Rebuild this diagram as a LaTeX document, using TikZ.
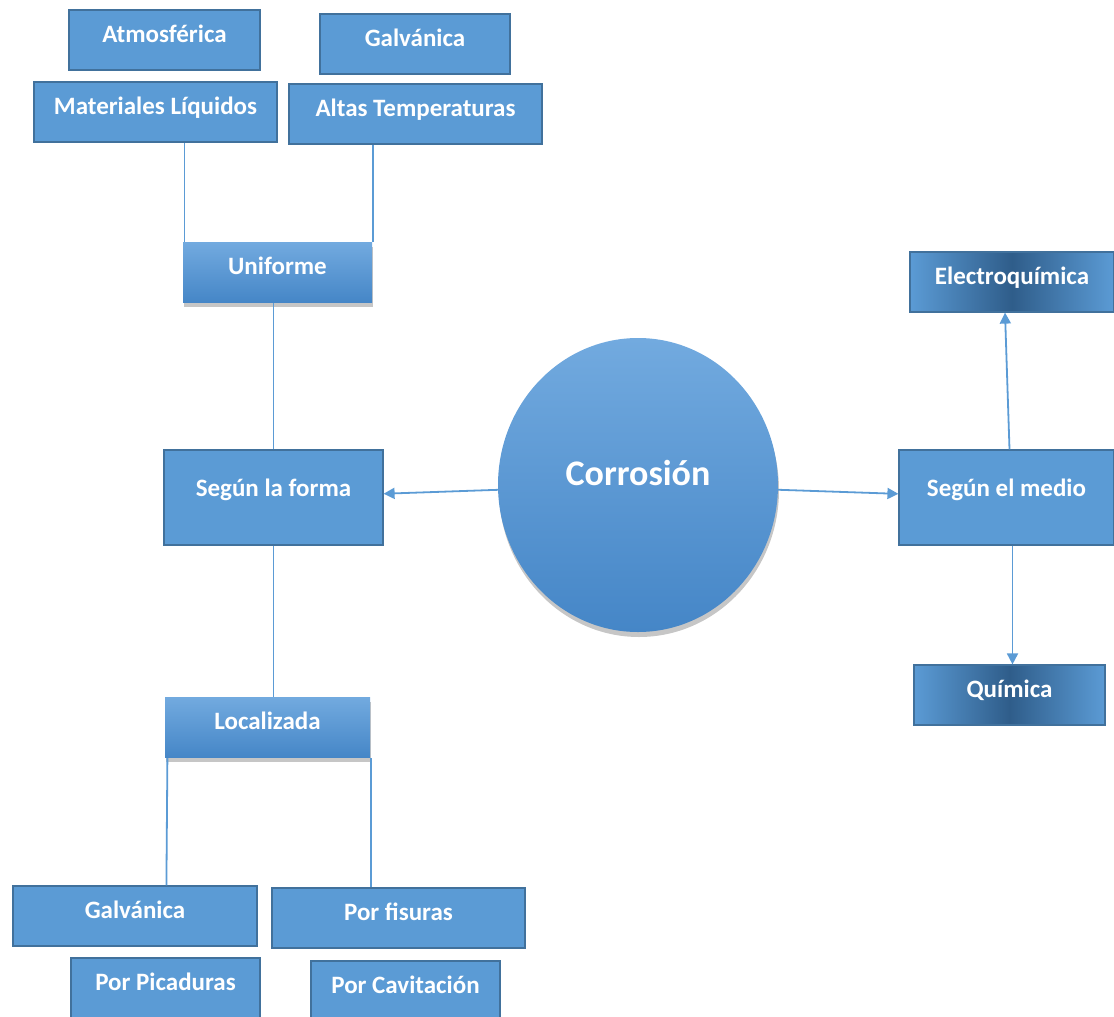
\documentclass[tikz,border=0pt]{standalone}
\usepackage{fontspec}
\setmainfont{Carlito}
\usetikzlibrary{arrows.meta, shapes.geometric, positioning, shadows}
\definecolor{boxblue}{HTML}{5B9BD5}
\definecolor{boxedge}{HTML}{41719C}
\definecolor{linkblue}{HTML}{5B9BD5}
\definecolor{glowtop}{HTML}{72AADF}
\definecolor{glowbot}{HTML}{4586C7}
\definecolor{deepblue}{HTML}{2F5D8A}

\begin{document}
\begin{tikzpicture}[x=1pt, y=-1pt,
  box/.style={draw=boxedge, line width=1.2pt, fill=boxblue, text=white,
              font=\fontsize{25}{30}\selectfont\bfseries, inner sep=0pt,
              minimum height=60pt, text height=32pt, text depth=28pt},
  tallbox/.style={box, text height=46pt, text depth=49pt},
  glowbox/.style={box, draw=none, top color=glowtop, bottom color=glowbot,
                  drop shadow={shadow xshift=1pt, shadow yshift=-4pt, opacity=.45}},
  darkbox/.style={box, left color=boxblue, right color=boxblue, middle color=deepblue},
  link/.style={linkblue, line width=1.8pt},
  arr/.style={link, -{Triangle[length=11pt, width=11pt]}},
]
\useasboundingbox (0,0) rectangle (1114,1017);

% Centre
\node[ellipse, top color=glowtop, bottom color=glowbot, inner sep=0pt,
      minimum width=280pt, minimum height=294pt, text=white,
      font=\fontsize{36}{42}\selectfont\bfseries, text height=23pt, text depth=23pt,
      drop shadow={shadow xshift=1pt, shadow yshift=-5pt, opacity=.45}]
      (corrosion) at (638,485) {Corrosión};

% Left branch: by shape
\node[tallbox, minimum width=219pt] (forma) at (273.5,497.5) {Según la forma};
\node[glowbox, minimum width=189pt] (uniforme) at (277.5,272.5) {Uniforme};
\node[glowbox, minimum width=205pt] (localizada) at (267.5,727.5) {Localizada};

% Uniform types
\node[box, minimum width=191pt] (atmos)  at (164.5,40)  {Atmosférica};
\node[box, minimum width=190pt] (galvup) at (415,44)    {Galvánica};
\node[box, minimum width=243pt] (matliq) at (155.5,112) {Materiales Líquidos};
\node[box, minimum width=253pt] (altas)  at (415.5,114) {Altas Temperaturas};

% Localized types
\node[box, minimum width=244pt] (galvlow)    at (135,916)   {Galvánica};
\node[box, minimum width=253pt] (fisuras)    at (398.5,918) {Por fisuras};
\node[box, minimum width=189pt] (picaduras)  at (165.5,988) {Por Picaduras};
\node[box, minimum width=189pt] (cavitacion) at (405.5,991) {Por Cavitación};

% Right branch: by medium
\node[tallbox, minimum width=215pt] (medio) at (1006.5,497.5) {Según el medio};
\node[darkbox, minimum width=204pt] (electro) at (1012,282) {Electroquímica};
\node[darkbox, minimum width=191pt] (quimica) at (1009.5,695) {Química};

% Connectors
\draw[arr] (corrosion) -- (forma);
\draw[arr] (corrosion) -- (medio);
\draw[arr] ([xshift=3pt]medio.north) -- ([xshift=-7pt]electro.south);
\draw[arr] ([xshift=6pt]medio.south) -- ([xshift=3pt]quimica.north);

\draw[link] (forma.north) -- (forma.north |- uniforme.south);
\draw[link] (forma.south) -- (forma.south |- localizada.north);
\draw[link] ([xshift=2pt]uniforme.north west) -- ([xshift=2pt]uniforme.north west |- matliq.south);
\draw[link] (uniforme.north east) -- (uniforme.north east |- altas.south);
\draw[link] ([xshift=3pt]localizada.south west) -- ([xshift=2pt]localizada.south west |- galvlow.north);
\draw[link] (localizada.south east) -- (localizada.south east |- fisuras.north);

\end{tikzpicture}
\end{document}
